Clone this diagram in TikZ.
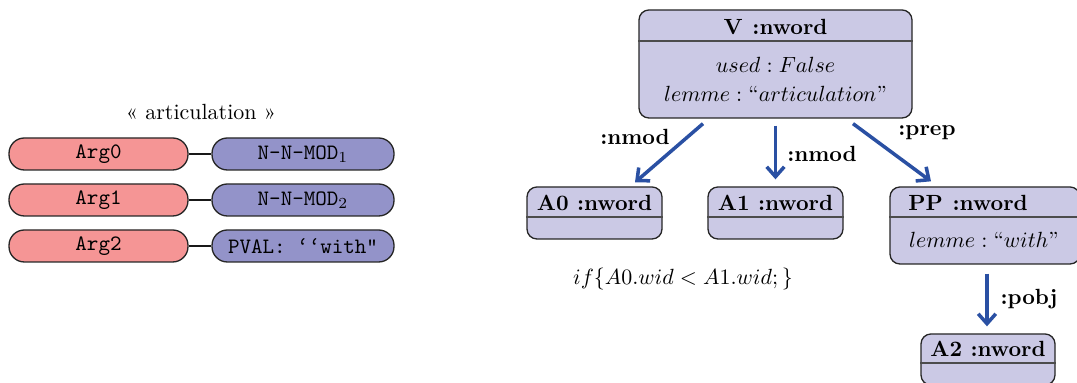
\documentclass[tikz,border=0pt]{standalone}
\usetikzlibrary{arrows.meta,calc}
\definecolor{pillred}{HTML}{F59595}
\definecolor{pillblue}{HTML}{9393C9}
\definecolor{boxfill}{HTML}{CBC9E5}
\definecolor{arrblue}{HTML}{2A50A3}
\begin{document}
\begin{tikzpicture}[x=0.455pt,y=-0.455pt,
  pill/.style={draw=black!85, line width=0.6pt, rounded corners=7pt, inner sep=0pt,
    minimum height=32*0.455pt, font=\ttfamily},
  redpill/.style={pill, fill=pillred, minimum width=179*0.455pt},
  bluepill/.style={pill, fill=pillblue, minimum width=182*0.455pt},
  pilllink/.style={draw=black!90, line width=0.9pt},
  umlbox/.style={draw=black!85, line width=0.6pt, fill=boxfill, rounded corners=4.5pt, inner sep=0pt},
  headline/.style={draw=black!70, line width=0.8pt},
  title/.style={font=\bfseries, inner sep=0pt},
  rel/.style={draw=arrblue, line width=1.6pt, -{Straight Barb[length=4.5pt,width=8pt,line width=1.6pt]}},
  rellabel/.style={font=\bfseries, inner sep=0pt}
]
\useasboundingbox (0,0) rectangle (1077,383);

% ---- left part ----
\node[inner sep=0pt] (head) at (201,112) {\guillemotleft\ articulation \guillemotright};

\node[redpill]  (arg0) at (98.5,154) {Arg0};
\node[bluepill] (mod1) at (303,154) {N-N-MOD$_1$};
\node[redpill]  (arg1) at (98.5,200) {Arg1};
\node[bluepill] (mod2) at (303,200) {N-N-MOD$_2$};
\node[redpill]  (arg2) at (98.5,246) {Arg2};
\node[bluepill] (pval) at (303,246) {PVAL: ‘‘with"};

\draw[pilllink] (arg0.east) -- (mod1.west);
\draw[pilllink] (arg1.east) -- (mod2.west);
\draw[pilllink] (arg2.east) -- (pval.west);

% ---- right part ----
\node[umlbox, minimum width=273*0.455pt, minimum height=108*0.455pt] (V) at (775.5,64) {};
\draw[headline] ($(V.north west)+(0,32)$) -- ($(V.north east)+(0,32)$);
\node[title] (Vt) at (775.5,27) {V\hspace{0.45em}:nword};
\node[inner sep=0pt] (Vu) at (775.5,65) {$used: False$};
\node[inner sep=0pt] (Vl) at (775.5,94) {$lemme:\mbox{``}articulation\mbox{''}$};

\node[umlbox, minimum width=135*0.455pt, minimum height=52*0.455pt] (A0) at (594.5,213) {};
\draw[headline] ($(A0.north west)+(0,31)$) -- ($(A0.north east)+(0,31)$);
\node[title] (A0t) at (594.5,203) {A0 :nword};

\node[umlbox, minimum width=135*0.455pt, minimum height=52*0.455pt] (A1) at (775.5,213) {};
\draw[headline] ($(A1.north west)+(0,31)$) -- ($(A1.north east)+(0,31)$);
\node[title] (A1t) at (775.5,203) {A1 :nword};

\node[umlbox, minimum width=190*0.455pt, minimum height=77*0.455pt] (PP) at (985,225.5) {};
\draw[headline] ($(PP.north west)+(0,31)$) -- ($(PP.north east)+(0,31)$);
\node[title] (PPt) at (968,203) {PP\hspace{0.45em}:nword};
\node[inner sep=0pt] (PPl) at (984,240) {$lemme:\mbox{``}with\mbox{''}$};

\node[umlbox, minimum width=134*0.455pt, minimum height=51*0.455pt] (A2) at (988,359.5) {};
\draw[headline] ($(A2.north west)+(0,30)$) -- ($(A2.north east)+(0,30)$);
\node[title] (A2t) at (988,349) {A2 :nword};

\node[inner sep=0pt] (cond) at (683,279) {$if\{A0.wid < A1.wid;\}$};

% arrows
\draw[rel] ($(V.south)+(-72.5,5)$) -- ($(A0.north)+(40.5,-4)$);
\draw[rel] ($(V.south)+(0,7)$) -- ($(A1.north)+(0,-7)$);
\draw[rel] ($(V.south)+(77.5,5)$) -- ($(PP.north)+(-54,-5)$);
\draw[rel] ($(PP.south)+(2,9)$) -- ($(A2.north)+(-1,-7)$);

\node[rellabel] (l1) at (635,137) {:nmod};
\node[rellabel] (l2) at (822,154) {:nmod};
\node[rellabel] (l3) at (927,133) {:prep};
\node[rellabel] (l4) at (1029,299) {:pobj};
\end{tikzpicture}
\end{document}
